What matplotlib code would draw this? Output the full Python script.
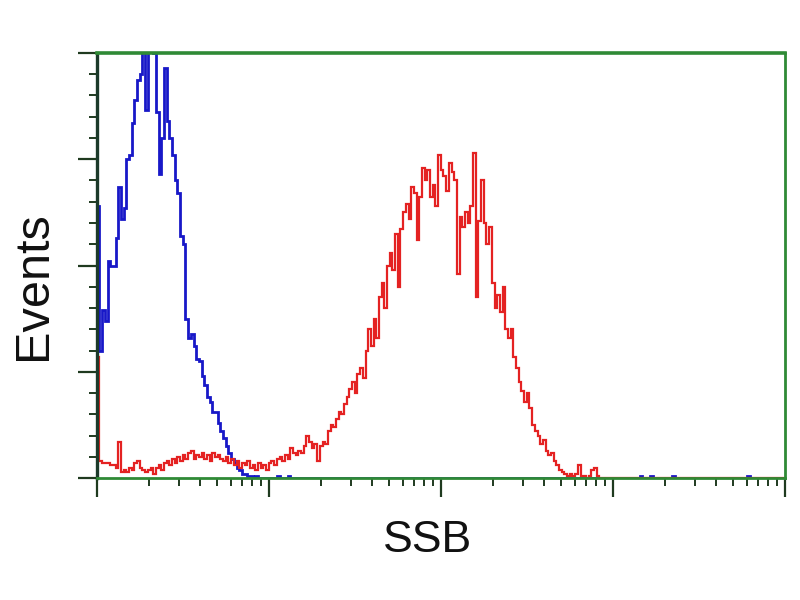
"""
Histogramme cytométrie : SSB (bleu = contrôle, rouge = marqué)
"""

import numpy as np
import matplotlib
matplotlib.use('Agg')
import matplotlib.pyplot as plt
from matplotlib.ticker import LogLocator, MultipleLocator, NullFormatter

# 256 canaux sur 4 décades (10^0 .. 10^4)
n_channels = 256
decades = (0, 4)

# Comptes par canal (canaux non nuls uniquement)
blue_counts = [
    128, 60, 79, 74, 102, 100, 100, 113, 137, 122,
    127, 150, 152, 167, 178, 187, 190, 205, 173, 210,
    206, 200, 172, 143, 160, 193, 168, 160, 152, 140,
    134, 114, 110, 75, 66, 68, 62, 56, 55, 48,
    44, 38, 36, 31, 31, 26, 22, 19, 15, 12,
    9, 7, 5, 4, 2, 2, 1, 1, 0, 1,
    0, 0, 0, 0, 0, 0, 0, 1, 0, 0,
    0, 1,
]
blue_blips = {202: 1, 206: 1, 214: 1, 242: 1}

red_counts = [
    57, 8, 7, 7, 7, 6, 6, 5, 17, 3,
    4, 3, 5, 4, 7, 8, 5, 4, 3, 4,
    5, 2, 5, 6, 4, 7, 8, 6, 9, 7,
    10, 8, 11, 9, 12, 13, 9, 11, 10, 12,
    9, 11, 8, 12, 10, 11, 9, 8, 10, 7,
    9, 6, 8, 5, 7, 6, 8, 5, 6, 4,
    7, 5, 6, 4, 7, 8, 6, 9, 10, 8,
    11, 9, 14, 12, 11, 13, 12, 15, 20, 17,
    14, 16, 8, 15, 17, 16, 22, 25, 24, 28,
    31, 30, 35, 38, 42, 45, 40, 49, 52, 47,
    60, 70, 62, 75, 66, 85, 92, 80, 100, 106,
    98, 115, 90, 117, 125, 129, 122, 137, 134, 112,
    132, 146, 140, 145, 132, 138, 128, 152, 145, 142,
    135, 148, 144, 140, 96, 123, 118, 125, 120, 128,
    153, 85, 121, 140, 120, 110, 118, 92, 80, 86,
    78, 90, 70, 66, 70, 57, 52, 45, 41, 36,
    40, 33, 25, 22, 20, 16, 18, 13, 11, 12,
    8, 6, 4, 3, 2, 1, 2, 1, 2, 6,
    1, 1, 0, 1, 4, 5, 1,
]


def pad(values, blips=None):
    arr = np.zeros(n_channels)
    arr[:len(values)] = values
    if blips:
        for k, v in blips.items():
            arr[k] = v
    return arr


def create_histogram():
    edges = np.logspace(decades[0], decades[1], n_channels + 1)
    blue = pad(blue_counts, blue_blips)
    red = pad(red_counts)

    fig = plt.figure(figsize=(8, 6), dpi=100)
    ax = fig.add_axes([0.121, 0.203, 0.860, 0.709])

    ax.stairs(blue, edges, color='#1818c8', linewidth=2.0, baseline=0)
    ax.stairs(red, edges, color='#e42222', linewidth=1.6, baseline=0)

    ax.set_xscale('log')
    ax.set_xlim(10 ** decades[0], 10 ** decades[1])
    ax.set_ylim(0, 200)

    # Ticks
    ax.xaxis.set_major_locator(LogLocator(base=10, numticks=10))
    ax.xaxis.set_minor_locator(LogLocator(base=10, subs=np.arange(2, 10), numticks=50))
    ax.xaxis.set_major_formatter(NullFormatter())
    ax.xaxis.set_minor_formatter(NullFormatter())
    ax.yaxis.set_major_locator(MultipleLocator(50))
    ax.yaxis.set_minor_locator(MultipleLocator(10))
    ax.yaxis.set_major_formatter(NullFormatter())

    tick_col = '#1f3a1f'
    ax.tick_params(axis='both', which='major', direction='out', length=14,
                   width=1.6, color=tick_col)
    ax.tick_params(axis='both', which='minor', direction='out', length=6,
                   width=1.4, color=tick_col)
    ax.tick_params(top=False, right=False, which='both')

    green = '#2f8a35'
    for side in ['top', 'right', 'bottom']:
        ax.spines[side].set_color(green)
        ax.spines[side].set_linewidth(2.0)
    ax.spines['top'].set_linewidth(2.6)
    ax.spines['left'].set_color('#1c3a2a')
    ax.spines['left'].set_linewidth(2.4)

    fig.text(428 / 800, 1 - 541 / 600, 'SSB', ha='center', va='center',
             fontsize=32, family='Liberation Sans', color='#111111')
    fig.text(34 / 800, 1 - 286 / 600, 'Events', ha='center', va='center',
             rotation=90, fontsize=35, family='Liberation Sans', color='#111111')

    fig.savefig('out.png', dpi=100)
    plt.close(fig)


if __name__ == "__main__":
    create_histogram()
